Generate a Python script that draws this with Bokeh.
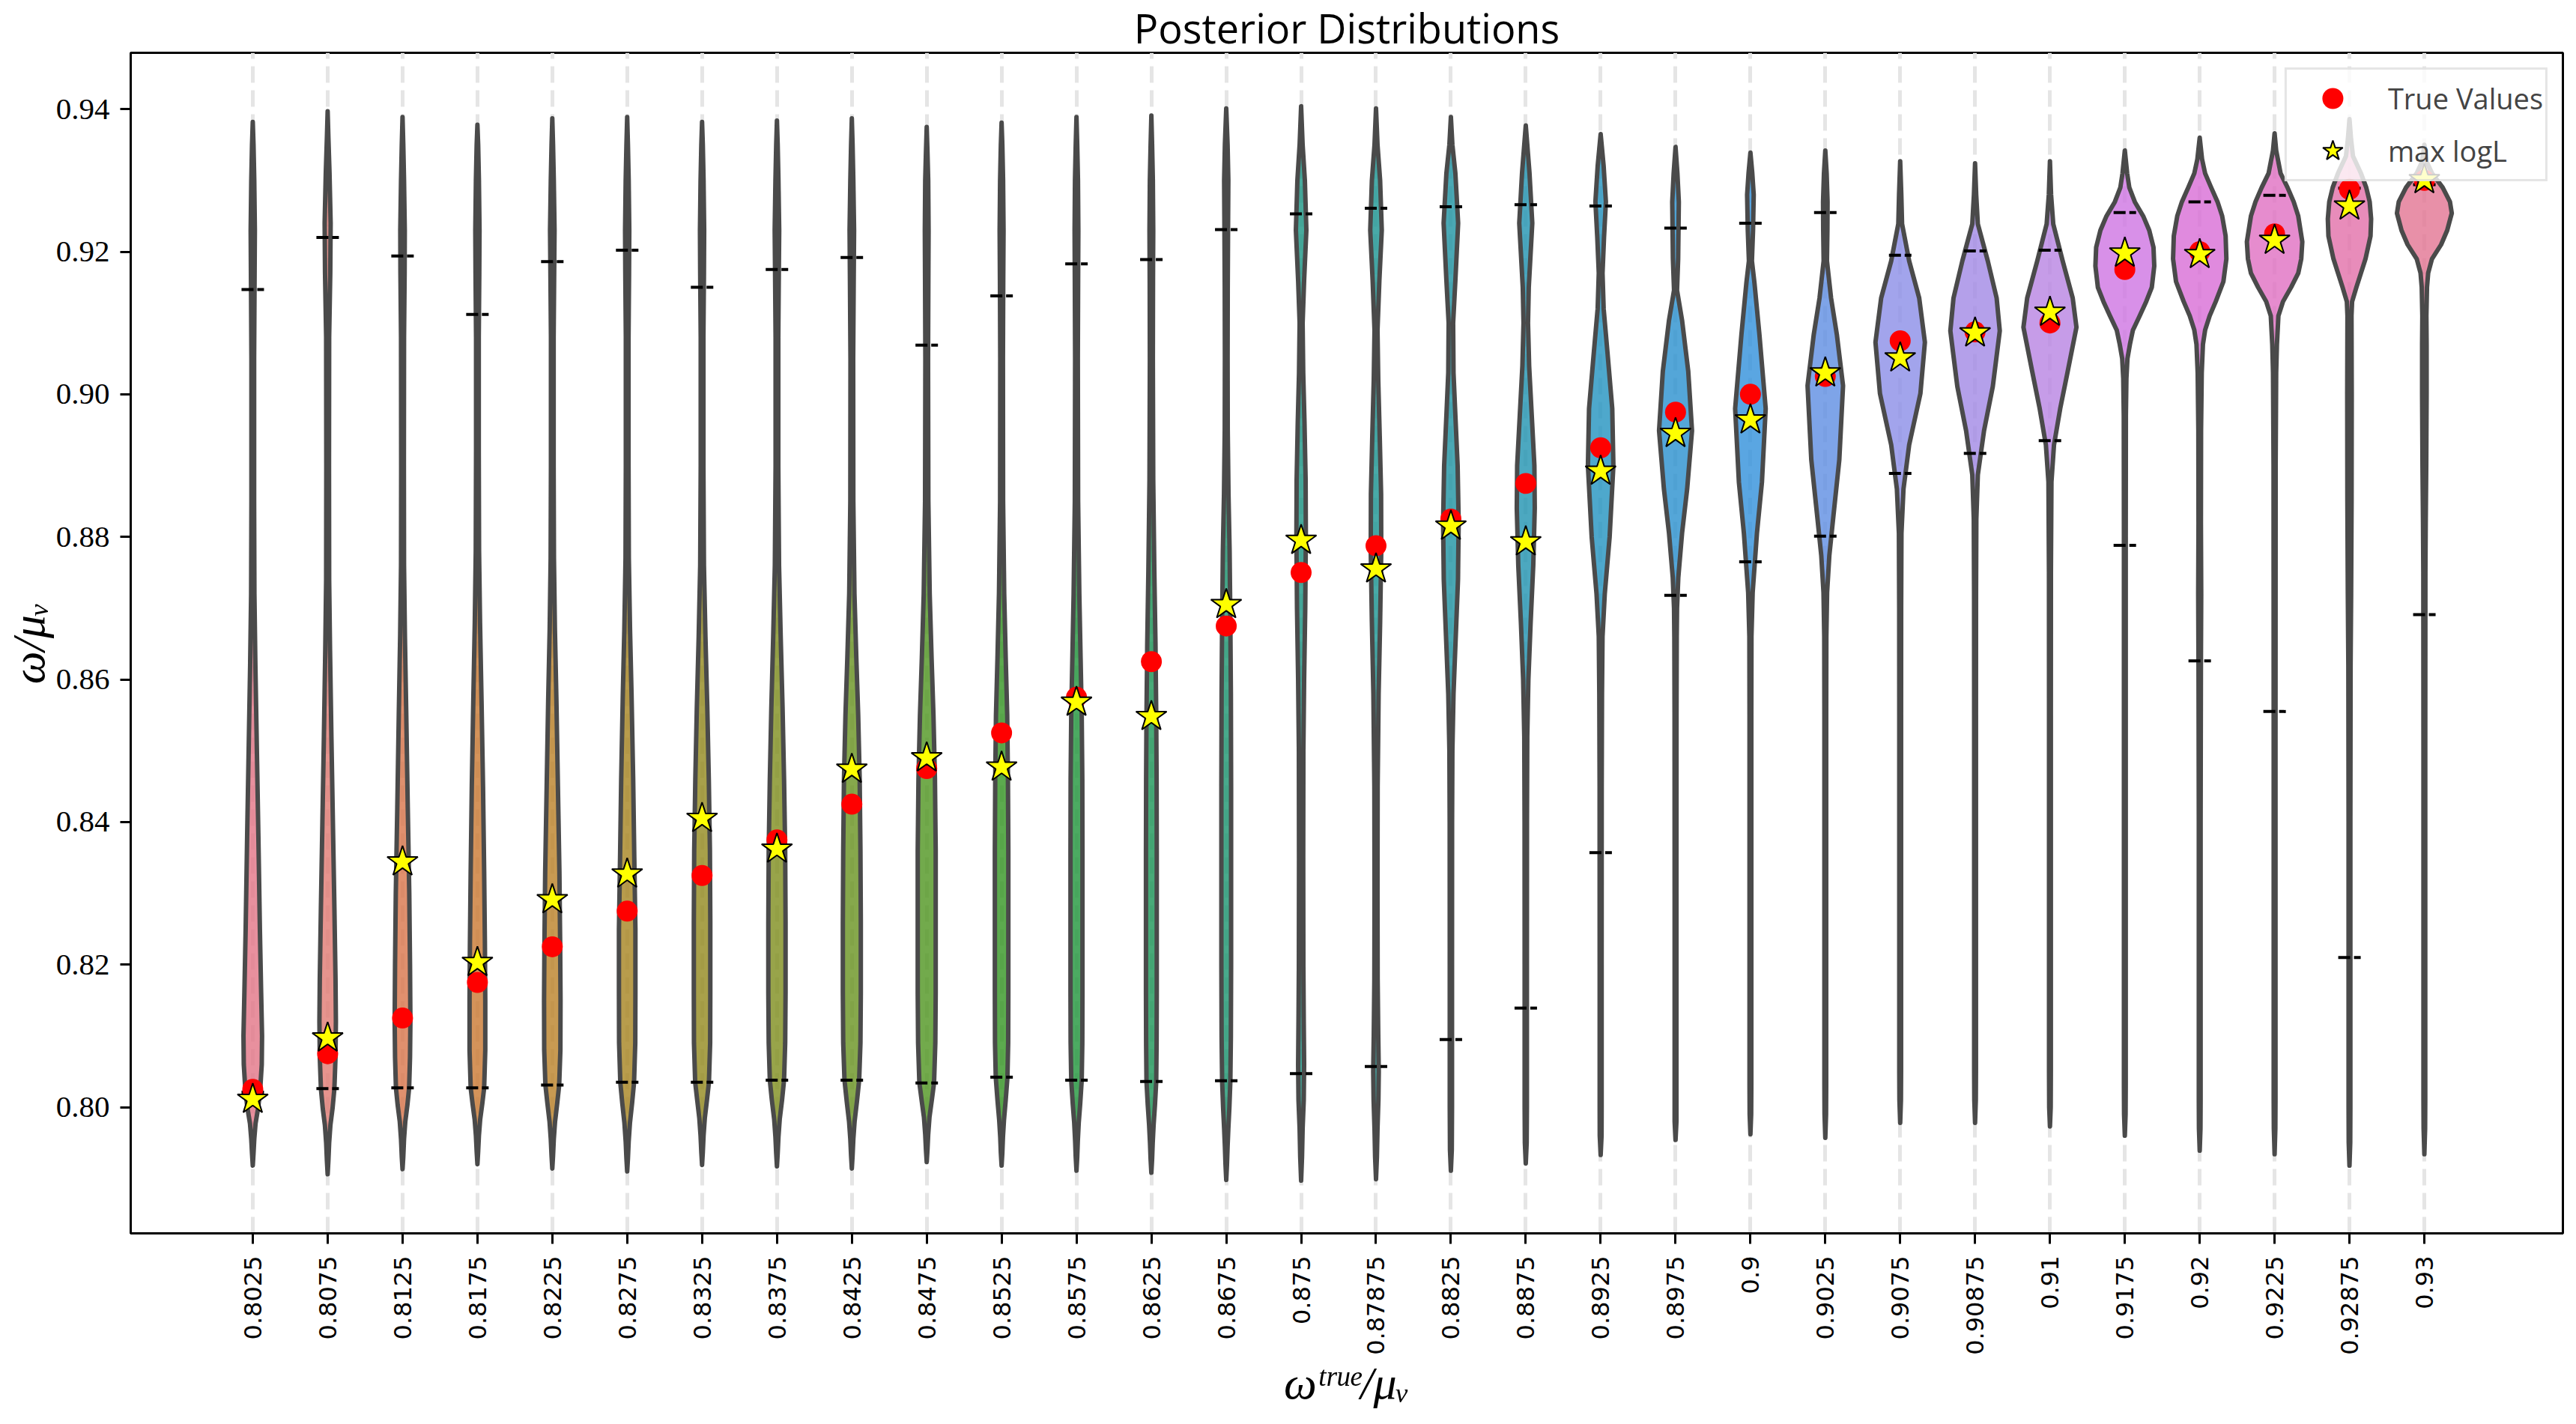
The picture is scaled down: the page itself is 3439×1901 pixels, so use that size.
import math

from bokeh.embed import file_html
from bokeh.models import (ColumnDataSource, FixedTicker, Legend, LegendItem,
                          NumeralTickFormatter, Range1d)
from bokeh.plotting import figure
from bokeh.resources import INLINE

# categories (true omega / mu_V) and the values
TRUE_LABELS = ["0.8025", "0.8075", "0.8125", "0.8175", "0.8225", "0.8275",
               "0.8325", "0.8375", "0.8425", "0.8475", "0.8525", "0.8575",
               "0.8625", "0.8675", "0.875", "0.87875", "0.8825", "0.8875",
               "0.8925", "0.8975", "0.9", "0.9025", "0.9075", "0.90875",
               "0.91", "0.9175", "0.92", "0.9225", "0.92875", "0.93"]
TRUE_VALUES = [float(s) for s in TRUE_LABELS]

MAX_LOGL = [0.8011, 0.8097, 0.8344, 0.8203, 0.8291, 0.8327, 0.8405, 0.8362,
            0.8474, 0.8490, 0.8477, 0.8568, 0.8548, 0.8705, 0.8795, 0.8755,
            0.8815, 0.8793, 0.8892, 0.8945, 0.8964, 0.9030, 0.9051, 0.9086,
            0.9115, 0.9198, 0.9196, 0.9216, 0.9264, 0.9301]

UPPER_Q = [0.9147, 0.9220, 0.9194, 0.9112, 0.9186, 0.9202, 0.9150, 0.9175,
           0.9192, 0.9069, 0.9138, 0.9183, 0.9189, 0.9231, 0.9253, 0.9261,
           0.9263, 0.9266, 0.9264, 0.9233, 0.9240, 0.9255, 0.9195, 0.9201,
           0.9202, 0.9255, 0.9270, 0.9279, 0.9289, 0.9294]

LOWER_Q = [0.8021, 0.8026, 0.8027, 0.8027, 0.8031, 0.8035, 0.8035, 0.8038,
           0.8038, 0.8034, 0.8042, 0.8038, 0.8036, 0.8037, 0.8047, 0.8057,
           0.8095, 0.8139, 0.8357, 0.8718, 0.8765, 0.8801, 0.8889, 0.8917,
           0.8935, 0.8788, 0.8626, 0.8555, 0.8210, 0.8691]

# violin outlines: knot heights (bottom to top) and half widths in category units
VIOLIN_Y = [
    [0.7918, 0.7935, 0.7955, 0.7977, 0.7998, 0.8021, 0.806, 0.810, 0.816, 0.825, 0.838, 0.850, 0.862, 0.872, 0.885, 0.905, 0.916, 0.923, 0.930, 0.935, 0.9382],
    [0.7906, 0.7925, 0.7950, 0.7975, 0.7998, 0.8026, 0.807, 0.812, 0.818, 0.828, 0.840, 0.852, 0.864, 0.874, 0.890, 0.908, 0.917, 0.924, 0.931, 0.936, 0.9397],
    [0.7913, 0.7930, 0.7955, 0.7980, 0.8003, 0.8027, 0.807, 0.812, 0.820, 0.830, 0.842, 0.855, 0.866, 0.876, 0.890, 0.908, 0.917, 0.923, 0.930, 0.935, 0.9389],
    [0.7920, 0.7938, 0.7960, 0.7983, 0.8005, 0.8027, 0.808, 0.815, 0.823, 0.833, 0.845, 0.857, 0.868, 0.878, 0.892, 0.908, 0.917, 0.923, 0.930, 0.935, 0.9378],
    [0.7914, 0.7932, 0.7955, 0.7980, 0.8005, 0.8031, 0.808, 0.815, 0.823, 0.833, 0.845, 0.857, 0.867, 0.877, 0.890, 0.908, 0.917, 0.923, 0.930, 0.935, 0.9387],
    [0.7910, 0.7928, 0.7952, 0.7978, 0.8005, 0.8035, 0.809, 0.816, 0.825, 0.835, 0.846, 0.858, 0.867, 0.877, 0.890, 0.908, 0.917, 0.923, 0.930, 0.935, 0.9389],
    [0.7919, 0.7937, 0.7960, 0.7985, 0.8010, 0.8035, 0.809, 0.816, 0.826, 0.836, 0.846, 0.856, 0.866, 0.876, 0.890, 0.908, 0.917, 0.923, 0.930, 0.935, 0.9382],
    [0.7917, 0.7935, 0.7958, 0.7983, 0.8010, 0.8038, 0.809, 0.816, 0.826, 0.836, 0.846, 0.856, 0.866, 0.876, 0.890, 0.908, 0.917, 0.923, 0.930, 0.935, 0.9384],
    [0.7914, 0.7932, 0.7955, 0.7980, 0.8008, 0.8038, 0.809, 0.816, 0.826, 0.836, 0.846, 0.855, 0.863, 0.872, 0.885, 0.905, 0.916, 0.923, 0.930, 0.935, 0.9387],
    [0.7923, 0.7940, 0.7962, 0.7986, 0.8010, 0.8034, 0.809, 0.816, 0.826, 0.836, 0.846, 0.855, 0.863, 0.872, 0.885, 0.905, 0.916, 0.923, 0.930, 0.934, 0.9375],
    [0.7918, 0.7936, 0.7958, 0.7982, 0.8010, 0.8042, 0.809, 0.816, 0.826, 0.836, 0.846, 0.855, 0.863, 0.872, 0.885, 0.905, 0.916, 0.923, 0.930, 0.935, 0.9381],
    [0.7911, 0.7930, 0.7953, 0.7978, 0.8005, 0.8038, 0.809, 0.816, 0.826, 0.836, 0.846, 0.855, 0.863, 0.872, 0.885, 0.905, 0.916, 0.923, 0.930, 0.935, 0.9389],
    [0.7908, 0.7927, 0.7950, 0.7975, 0.8003, 0.8036, 0.809, 0.816, 0.826, 0.836, 0.846, 0.855, 0.865, 0.875, 0.888, 0.905, 0.916, 0.923, 0.930, 0.935, 0.9391],
    [0.7898, 0.7920, 0.7945, 0.7970, 0.8000, 0.8037, 0.810, 0.820, 0.832, 0.845, 0.858, 0.868, 0.878, 0.886, 0.895, 0.905, 0.915, 0.925, 0.930, 0.935, 0.9401],
    [0.7897, 0.793, 0.797, 0.801, 0.806, 0.812, 0.820, 0.835, 0.850, 0.860, 0.870, 0.880, 0.888, 0.896, 0.903, 0.910, 0.916, 0.923, 0.930, 0.935, 0.9404],
    [0.7899, 0.793, 0.797, 0.801, 0.805, 0.810, 0.818, 0.830, 0.845, 0.858, 0.868, 0.878, 0.886, 0.894, 0.902, 0.909, 0.916, 0.923, 0.930, 0.935, 0.9401],
    [0.7911, 0.794, 0.800, 0.820, 0.840, 0.850, 0.858, 0.866, 0.874, 0.882, 0.890, 0.897, 0.903, 0.910, 0.916, 0.924, 0.931, 0.935, 0.9389],
    [0.7921, 0.795, 0.800, 0.820, 0.840, 0.852, 0.860, 0.868, 0.876, 0.884, 0.890, 0.897, 0.904, 0.910, 0.915, 0.924, 0.931, 0.9377],
    [0.7933, 0.796, 0.800, 0.820, 0.845, 0.858, 0.866, 0.872, 0.880, 0.890, 0.898, 0.906, 0.912, 0.917, 0.922, 0.927, 0.932, 0.9365],
    [0.7954, 0.798, 0.802, 0.830, 0.855, 0.866, 0.870, 0.8743, 0.8805, 0.8867, 0.8949, 0.9032, 0.9104, 0.9146, 0.919, 0.927, 0.931, 0.9347],
    [0.7962, 0.799, 0.803, 0.830, 0.855, 0.866, 0.8722, 0.8805, 0.8877, 0.898, 0.9084, 0.9156, 0.9187, 0.923, 0.928, 0.931, 0.9339],
    [0.7957, 0.799, 0.803, 0.830, 0.855, 0.866, 0.8722, 0.8774, 0.8825, 0.8908, 0.9012, 0.9084, 0.9135, 0.9187, 0.923, 0.927, 0.931, 0.9342],
    [0.7978, 0.801, 0.805, 0.830, 0.855, 0.870, 0.8805, 0.8867, 0.8929, 0.9001, 0.9073, 0.9135, 0.9187, 0.9239, 0.928, 0.9327],
    [0.7978, 0.801, 0.805, 0.830, 0.855, 0.872, 0.8825, 0.8887, 0.8949, 0.9011, 0.9089, 0.9135, 0.9187, 0.9239, 0.928, 0.9324],
    [0.7973, 0.800, 0.805, 0.830, 0.855, 0.875, 0.8877, 0.8929, 0.898, 0.9032, 0.9094, 0.9135, 0.9187, 0.9239, 0.928, 0.9327],
    [0.7960, 0.799, 0.803, 0.840, 0.880, 0.897, 0.9022, 0.905, 0.907, 0.909, 0.911, 0.913, 0.915, 0.918, 0.9206, 0.923, 0.925, 0.927, 0.929, 0.931, 0.9342],
    [0.7939, 0.797, 0.801, 0.840, 0.862, 0.872, 0.882, 0.895, 0.903, 0.907, 0.909, 0.911, 0.913, 0.9158, 0.919, 0.9222, 0.925, 0.927, 0.929, 0.931, 0.933, 0.936],
    [0.7934, 0.797, 0.801, 0.850, 0.890, 0.903, 0.907, 0.911, 0.913, 0.915, 0.917, 0.919, 0.9214, 0.925, 0.927, 0.929, 0.931, 0.9342, 0.9366],
    [0.7918, 0.795, 0.800, 0.840, 0.862, 0.872, 0.885, 0.900, 0.911, 0.913, 0.915, 0.917, 0.919, 0.9222, 0.9246, 0.927, 0.929, 0.931, 0.9334, 0.9358, 0.9386],
    [0.7934, 0.797, 0.801, 0.850, 0.875, 0.882, 0.890, 0.900, 0.907, 0.911, 0.915, 0.917, 0.919, 0.921, 0.923, 0.9254, 0.927, 0.929, 0.931, 0.9326, 0.935],
]

VIOLIN_W = [
    [0, 0.010, 0.020, 0.037, 0.070, 0.097, 0.120, 0.124, 0.112, 0.095, 0.075, 0.055, 0.035, 0.022, 0.018, 0.018, 0.024, 0.028, 0.020, 0.010, 0],
    [0, 0.010, 0.020, 0.037, 0.065, 0.090, 0.105, 0.110, 0.105, 0.090, 0.070, 0.050, 0.032, 0.020, 0.018, 0.020, 0.035, 0.040, 0.025, 0.010, 0],
    [0, 0.010, 0.020, 0.037, 0.065, 0.088, 0.100, 0.105, 0.100, 0.090, 0.070, 0.050, 0.032, 0.020, 0.018, 0.020, 0.028, 0.030, 0.020, 0.010, 0],
    [0, 0.010, 0.020, 0.037, 0.065, 0.090, 0.105, 0.105, 0.100, 0.090, 0.075, 0.055, 0.035, 0.022, 0.018, 0.018, 0.025, 0.028, 0.020, 0.010, 0],
    [0, 0.010, 0.020, 0.037, 0.065, 0.092, 0.108, 0.110, 0.105, 0.095, 0.075, 0.055, 0.035, 0.022, 0.018, 0.018, 0.025, 0.030, 0.020, 0.010, 0],
    [0, 0.010, 0.020, 0.037, 0.065, 0.092, 0.108, 0.110, 0.110, 0.095, 0.080, 0.058, 0.038, 0.022, 0.018, 0.018, 0.025, 0.028, 0.020, 0.010, 0],
    [0, 0.010, 0.020, 0.037, 0.065, 0.092, 0.108, 0.110, 0.110, 0.105, 0.090, 0.070, 0.045, 0.025, 0.018, 0.018, 0.025, 0.028, 0.020, 0.010, 0],
    [0, 0.010, 0.020, 0.037, 0.068, 0.095, 0.110, 0.115, 0.115, 0.110, 0.095, 0.075, 0.050, 0.028, 0.018, 0.018, 0.025, 0.030, 0.020, 0.010, 0],
    [0, 0.010, 0.020, 0.037, 0.068, 0.098, 0.115, 0.120, 0.120, 0.115, 0.105, 0.085, 0.060, 0.035, 0.020, 0.018, 0.025, 0.030, 0.020, 0.010, 0],
    [0, 0.010, 0.020, 0.037, 0.068, 0.098, 0.115, 0.120, 0.120, 0.120, 0.110, 0.090, 0.065, 0.040, 0.022, 0.018, 0.022, 0.025, 0.020, 0.010, 0],
    [0, 0.010, 0.018, 0.032, 0.055, 0.078, 0.088, 0.090, 0.090, 0.090, 0.085, 0.075, 0.055, 0.035, 0.020, 0.018, 0.022, 0.026, 0.020, 0.010, 0],
    [0, 0.010, 0.018, 0.030, 0.050, 0.070, 0.078, 0.080, 0.080, 0.080, 0.078, 0.070, 0.055, 0.038, 0.022, 0.018, 0.022, 0.025, 0.020, 0.010, 0],
    [0, 0.010, 0.018, 0.030, 0.048, 0.065, 0.070, 0.072, 0.072, 0.072, 0.070, 0.065, 0.055, 0.040, 0.025, 0.020, 0.022, 0.025, 0.020, 0.010, 0],
    [0, 0.010, 0.018, 0.028, 0.042, 0.055, 0.062, 0.065, 0.065, 0.065, 0.062, 0.055, 0.045, 0.030, 0.020, 0.018, 0.020, 0.025, 0.028, 0.018, 0],
    [0, 0.012, 0.020, 0.035, 0.040, 0.035, 0.030, 0.028, 0.030, 0.040, 0.055, 0.063, 0.060, 0.045, 0.028, 0.020, 0.040, 0.070, 0.050, 0.020, 0],
    [0, 0.012, 0.020, 0.032, 0.037, 0.030, 0.022, 0.020, 0.022, 0.035, 0.055, 0.070, 0.068, 0.050, 0.030, 0.020, 0.045, 0.077, 0.055, 0.020, 0],
    [0, 0.012, 0.015, 0.015, 0.016, 0.020, 0.035, 0.065, 0.095, 0.104, 0.090, 0.060, 0.035, 0.030, 0.060, 0.097, 0.060, 0.020, 0],
    [0, 0.012, 0.015, 0.015, 0.016, 0.020, 0.035, 0.065, 0.100, 0.120, 0.115, 0.080, 0.045, 0.030, 0.040, 0.087, 0.050, 0],
    [0, 0.012, 0.013, 0.013, 0.014, 0.018, 0.025, 0.055, 0.120, 0.170, 0.155, 0.090, 0.040, 0.025, 0.045, 0.070, 0.040, 0],
    [0, 0.012, 0.012, 0.012, 0.013, 0.016, 0.020, 0.037, 0.087, 0.155, 0.220, 0.170, 0.087, 0.020, 0.035, 0.044, 0.025, 0],
    [0, 0.010, 0.012, 0.012, 0.012, 0.014, 0.030, 0.087, 0.154, 0.204, 0.120, 0.054, 0.020, 0.035, 0.044, 0.025, 0],
    [0, 0.010, 0.012, 0.012, 0.012, 0.014, 0.024, 0.054, 0.104, 0.187, 0.237, 0.154, 0.077, 0.022, 0.028, 0.030, 0.018, 0],
    [0, 0.010, 0.012, 0.012, 0.012, 0.013, 0.017, 0.044, 0.120, 0.270, 0.330, 0.254, 0.120, 0.025, 0.015, 0],
    [0, 0.010, 0.012, 0.012, 0.012, 0.013, 0.017, 0.037, 0.120, 0.237, 0.330, 0.288, 0.170, 0.037, 0.015, 0],
    [0, 0.010, 0.012, 0.012, 0.012, 0.013, 0.020, 0.054, 0.137, 0.237, 0.354, 0.304, 0.170, 0.044, 0.015, 0],
    [0, 0.010, 0.012, 0.012, 0.012, 0.014, 0.021, 0.035, 0.068, 0.108, 0.198, 0.285, 0.360, 0.393, 0.383, 0.326, 0.245, 0.133, 0.060, 0.031, 0],
    [0, 0.010, 0.012, 0.012, 0.016, 0.020, 0.016, 0.018, 0.027, 0.043, 0.072, 0.133, 0.214, 0.316, 0.356, 0.346, 0.300, 0.238, 0.153, 0.072, 0.031, 0],
    [0, 0.010, 0.012, 0.012, 0.014, 0.021, 0.031, 0.051, 0.112, 0.220, 0.316, 0.356, 0.370, 0.316, 0.255, 0.173, 0.080, 0.021, 0],
    [0, 0.010, 0.012, 0.012, 0.015, 0.022, 0.028, 0.030, 0.027, 0.035, 0.092, 0.153, 0.214, 0.281, 0.289, 0.270, 0.224, 0.153, 0.047, 0.021, 0],
    [0, 0.010, 0.012, 0.012, 0.014, 0.018, 0.025, 0.030, 0.030, 0.027, 0.035, 0.051, 0.102, 0.224, 0.305, 0.366, 0.342, 0.245, 0.102, 0.031, 0],
]

# violin colours as they look on white
COLORS = ["#e8909e", "#e6948e", "#e0906e", "#d4935a", "#c89a52", "#b89c4c",
          "#a8a04a", "#98a44a", "#86a84c", "#72aa4c", "#5caa4e", "#4caa62",
          "#48aa78", "#48aa8c", "#48aa9c", "#48aaa8", "#4aa8b4", "#4ca8c0",
          "#4ea8cc", "#54a6d8", "#5aa6e2", "#7ea4e8", "#a2a4ec", "#b4a0ea",
          "#c69ce8", "#d890e8", "#e08ade", "#e68cce", "#e88cba", "#e890a8"]

Y_TICKS = [0.80, 0.82, 0.84, 0.86, 0.88, 0.90, 0.92, 0.94]

X_LO, X_HI = -1.63, 30.85
Y_LO, Y_HI = 0.7823, 0.9479
FILL_ALPHA = 0.8


def solid(hex_color, alpha):
    # colour that gives hex_color when painted with alpha over white
    rgb = [int(hex_color[k:k + 2], 16) for k in (1, 3, 5)]
    out = [max(0, min(255, round((c - (1 - alpha) * 255) / alpha))) for c in rgb]
    return "#%02x%02x%02x" % tuple(out)


positions = list(range(len(TRUE_LABELS)))

xs, ys = [], []
for i, (vy, hw) in enumerate(zip(VIOLIN_Y, VIOLIN_W)):
    xs.append([i + w for w in hw] + [i - w for w in reversed(hw)])
    ys.append(list(vy) + list(reversed(vy)))

violins = ColumnDataSource(dict(xs=xs, ys=ys,
                                fill=[solid(c, FILL_ALPHA) for c in COLORS]))

p = figure(
    width=3423, height=1885,
    title='Posterior Distributions',
    x_range=Range1d(X_LO, X_HI), y_range=Range1d(Y_LO, Y_HI),
    output_backend="svg", toolbar_location=None,
    min_border_left=173, min_border_right=2,
    min_border_top=0, min_border_bottom=239)

p.title.text_font = 'Open Sans'
p.title.text_font_size = '54px'
p.title.text_font_style = 'normal'
p.title.text_color = 'black'
p.title.align = 'center'
p.title.standoff = -6
p.title.offset = 0

p.patches('xs', 'ys', source=violins, fill_color='fill', fill_alpha=FILL_ALPHA,
          line_color='#4a4a4a', line_width=6, line_join='round')

p.segment(x0=[i - 0.15 for i in positions], y0=UPPER_Q,
          x1=[i + 0.15 for i in positions], y1=UPPER_Q,
          line_color='black', line_width=4, line_dash='16 5')
p.segment(x0=[i - 0.15 for i in positions], y0=LOWER_Q,
          x1=[i + 0.15 for i in positions], y1=LOWER_Q,
          line_color='black', line_width=4, line_dash='16 5')

r_true = p.scatter(positions, TRUE_VALUES, size=28, fill_color='red',
                   line_color='red', line_width=0)
r_star = p.scatter(positions, MAX_LOGL, marker='star', size=43,
                   fill_color='yellow', line_color='black', line_width=2)

# axes
xticker = FixedTicker(ticks=positions)
p.xaxis.ticker = xticker
p.xgrid.ticker = xticker
p.xaxis.major_label_overrides = {i: s for i, s in enumerate(TRUE_LABELS)}
p.xaxis.major_label_orientation = math.pi / 2
p.xaxis.major_label_text_font = 'DejaVu Sans'
p.xaxis.major_label_text_font_size = '32px'
p.xaxis.major_label_standoff = 16
p.xaxis.axis_label = 'ω\u1d57\u02b3\u1d58\u1d49/μ\u1d65'
p.xaxis.axis_label_standoff = 0

p.yaxis.ticker = FixedTicker(ticks=Y_TICKS)
p.yaxis.formatter = NumeralTickFormatter(format='0.00')
p.yaxis.major_label_text_font = 'Liberation Serif'
p.yaxis.major_label_text_font_size = '41px'
p.yaxis.major_label_standoff = 14
p.yaxis.axis_label = 'ω/μ\u1d65'
p.yaxis.axis_label_standoff = 0

for ax in (p.xaxis, p.yaxis):
    ax.axis_line_width = 3
    ax.axis_line_color = 'black'
    ax.major_tick_line_width = 3
    ax.major_tick_out = 14
    ax.major_tick_in = 0
    ax.minor_tick_line_color = None
    ax.major_label_text_color = 'black'
    ax.axis_label_text_font = 'Liberation Serif'
    ax.axis_label_text_font_style = 'italic'
    ax.axis_label_text_font_size = '62px'
    ax.axis_label_text_color = 'black'

p.xgrid.grid_line_color = '#e5e5e5'
p.xgrid.grid_line_width = 5
p.xgrid.grid_line_dash = '22 10'
p.ygrid.visible = False
p.outline_line_color = 'black'
p.outline_line_width = 3
p.outline_line_alpha = 1

legend = Legend(items=[LegendItem(label='True Values', renderers=[r_true]),
                       LegendItem(label='max logL', renderers=[r_star])],
                location='top_right')
legend.label_text_font = 'Open Sans'
legend.label_text_font_size = '38px'
legend.glyph_width = 116
legend.glyph_height = 70
legend.spacing = -14
legend.padding = 3
legend.margin = 20
legend.label_standoff = 16
legend.border_line_color = '#cccccc'
legend.border_line_width = 3
legend.background_fill_alpha = 0.8
p.add_layout(legend)

open("out.html", "w").write(file_html(p, INLINE))
